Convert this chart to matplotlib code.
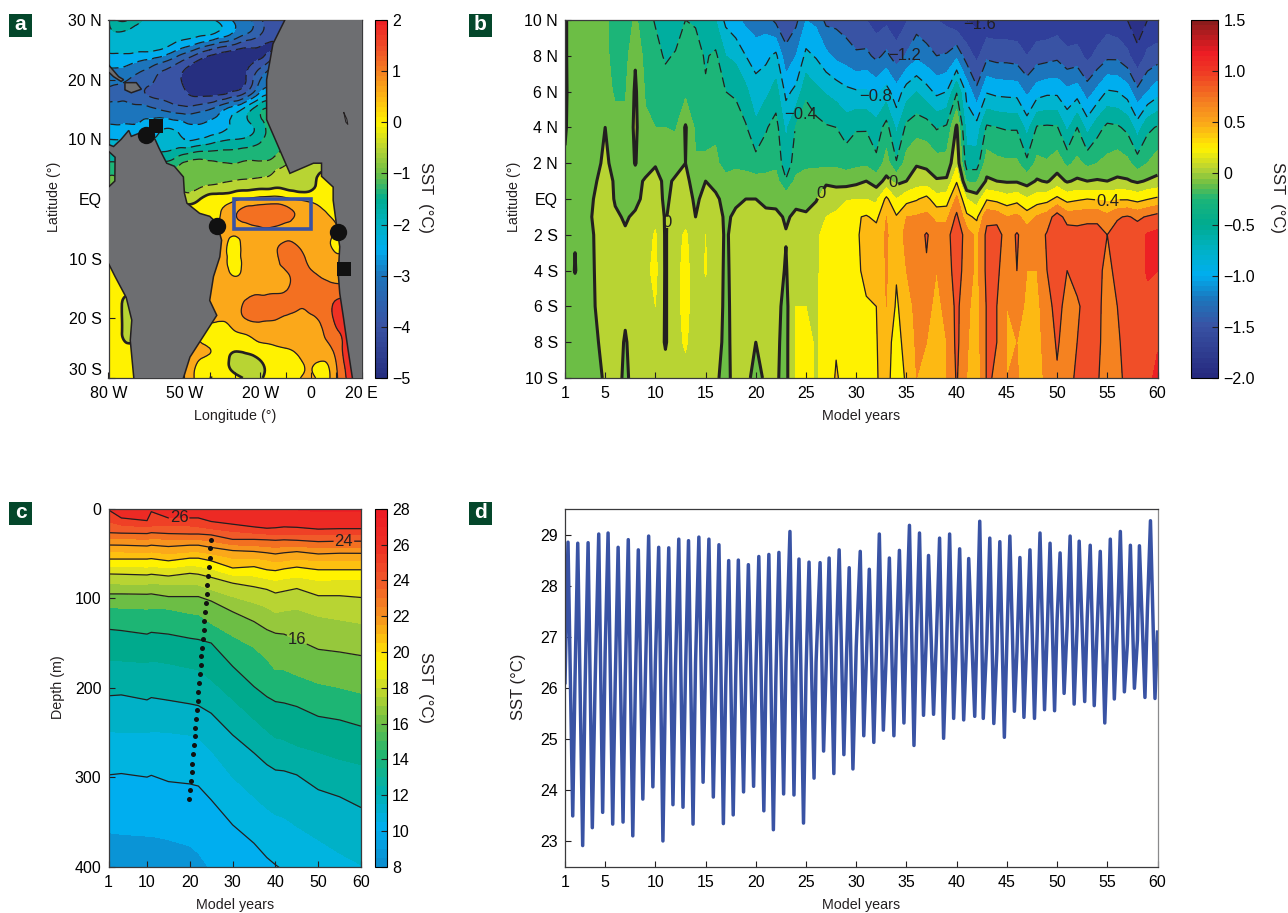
"""Four panel SST figure: map anomaly (a), Hovmoller (b), depth section (c), time series (d)."""

import numpy as np
import matplotlib
matplotlib.use("Agg")
import matplotlib.pyplot as plt
from matplotlib.cm import ScalarMappable
from matplotlib.colors import LinearSegmentedColormap, Normalize
from matplotlib.patches import Polygon, Rectangle
from matplotlib.tri import Triangulation, UniformTriRefiner

plt.rcParams["font.family"] = ["Liberation Sans", "DejaVu Sans"]
plt.rcParams["text.color"] = "#231f20"
plt.rcParams["axes.labelcolor"] = "#231f20"

W, H = 1288, 913
INK = "#231f20"
LAND = "#6d6e71"

# ---------------------------------------------------------------------------
# Data: panel a, SST anomaly on a lon/lat grid
# ---------------------------------------------------------------------------
map_lon = [-80, -75, -70, -65, -60, -55, -50, -45, -40, -35, -30, -25, -20, -15, -10, -5, 0, 5, 10, 15, 20]
map_lat = [30, 27.5, 25, 22.5, 20, 17.5, 15, 12.5, 10, 7.5, 5, 2.5, 0, -2.5, -5, -7.5, -10, -12.5, -15, -17.5, -20, -22.5, -25, -27.5, -30]
map_sst = [
    [-2.0, -1.4, -1.7, -2.1, -2.2, -2.2, -2.2, -2.3, -2.4, -2.7, -3.1, -3.4, -3.9, -4.3, -4.3, -4.3, -4.3, -4.3, -4.3, -4.3, -4.3],
    [-2.1, -2.1, -2.2, -2.2, -2.3, -2.3, -2.3, -2.4, -2.5, -2.8, -3.2, -3.6, -4.0, -4.3, -4.3, -4.3, -4.3, -4.3, -4.3, -4.3, -4.3],
    [-2.4, -2.4, -2.4, -2.4, -2.5, -2.8, -3.2, -3.6, -4.0, -4.3, -4.5, -4.6, -4.6, -4.5, -4.3, -4.3, -4.3, -4.3, -4.3, -4.3, -4.3],
    [-2.9, -2.9, -3.1, -3.3, -3.6, -3.9, -4.3, -4.7, -4.9, -4.9, -4.8, -4.6, -4.2, -3.6, -3.4, -3.4, -3.4, -3.4, -3.4, -3.4, -3.4],
    [-3.3, -3.4, -3.6, -3.8, -4.1, -4.3, -4.6, -5.0, -5.0, -5.0, -4.8, -4.4, -3.5, -3.2, -3.2, -3.2, -3.2, -3.2, -3.2, -3.2, -3.2],
    [-3.6, -3.6, -3.8, -4.0, -4.1, -4.2, -4.4, -4.6, -4.6, -4.5, -4.2, -3.7, -2.8, -2.5, -2.5, -2.5, -2.5, -2.5, -2.5, -2.5, -2.5],
    [-3.3, -3.3, -3.3, -3.3, -3.5, -3.7, -3.8, -3.7, -3.5, -3.1, -2.7, -2.2, -1.6, -1.5, -1.5, -1.5, -1.5, -1.5, -1.5, -1.5, -1.5],
    [-3.0, -3.0, -3.0, -2.9, -2.7, -2.7, -2.9, -3.0, -2.9, -2.7, -2.4, -2.1, -1.7, -1.3, -1.2, -1.2, -1.2, -1.2, -1.2, -1.2, -1.2],
    [-2.5, -2.5, -2.5, -2.5, -2.4, -2.3, -2.5, -2.5, -2.3, -2.1, -2.0, -1.9, -1.6, -1.2, -1.1, -1.1, -1.1, -1.1, -1.1, -1.1, -1.1],
    [-1.9, -1.9, -1.9, -1.9, -1.9, -1.8, -1.5, -1.3, -1.3, -1.3, -1.3, -1.2, -1.2, -1.1, -0.9, -0.9, -0.9, -0.9, -0.9, -0.9, -0.9],
    [-1.2, -1.2, -1.2, -1.2, -1.2, -1.1, -0.8, -0.8, -0.85, -0.85, -0.85, -0.8, -0.75, -0.6, -0.4, -0.05, -0.25, -0.1, -0.1, -0.1, -0.1],
    [-0.7, -0.7, -0.7, -0.7, -0.7, -0.7, -0.7, -0.65, -0.55, -0.45, -0.35, -0.3, -0.25, -0.2, -0.2, -0.2, -0.15, 0.1, 0.1, 0.1, 0.1],
    [0.2, 0.2, 0.2, 0.2, 0.1, 0.0, -0.2, -0.1, 0.2, 0.25, 0.4, 0.55, 0.65, 0.7, 0.6, 0.45, 0.35, 0.2, 0.2, 0.2, 0.2],
    [0.3, 0.3, 0.3, 0.3, 0.3, 0.3, 0.3, 0.3, 0.3, 0.55, 0.95, 1.2, 1.25, 1.25, 1.15, 0.95, 0.8, 0.6, 0.35, 0.35, 0.35],
    [0.4, 0.4, 0.4, 0.4, 0.4, 0.4, 0.4, 0.4, 0.4, 0.6, 0.7, 0.85, 0.95, 0.95, 0.9, 0.85, 0.8, 0.7, 0.5, 0.5, 0.5],
    [0.4, 0.4, 0.4, 0.4, 0.4, 0.4, 0.4, 0.4, 0.5, 0.6, 0.4, 0.75, 0.85, 0.9, 1.05, 0.95, 0.85, 0.7, 0.35, 0.35, 0.35],
    [0.2, 0.2, 0.4, 0.4, 0.4, 0.4, 0.5, 0.5, 0.6, 0.6, 0.4, 0.7, 0.8, 0.9, 1.15, 1.15, 0.9, 0.75, 0.6, 0.6, 0.6],
    [0.05, 0.2, 0.3, 0.4, 0.5, 0.5, 0.5, 0.6, 0.6, 0.65, 0.45, 0.7, 0.8, 0.9, 0.95, 1.15, 1.05, 0.9, 0.7, 0.7, 0.7],
    [0.25, 0.25, 0.25, 0.4, 0.5, 0.5, 0.5, 0.6, 0.6, 0.7, 0.75, 0.8, 0.85, 0.9, 0.95, 1.15, 1.15, 1.2, 1.2, 1.2, 1.2],
    [0.3, 0.05, -0.4, 0.3, 0.4, 0.5, 0.5, 0.6, 0.6, 0.7, 0.85, 1.1, 1.2, 1.2, 1.15, 1.05, 1.1, 1.3, 1.55, 1.6, 1.6],
    [0.3, 0.05, -0.4, 0.3, 0.4, 0.5, 0.5, 0.5, 0.6, 0.55, 0.75, 1.05, 1.1, 1.05, 0.95, 0.95, 0.95, 1.15, 1.6, 1.7, 1.7],
    [0.3, 0.05, -0.4, 0.3, 0.3, 0.4, 0.4, 0.4, 0.3, 0.35, 0.45, 0.55, 0.7, 0.75, 0.8, 0.85, 0.85, 1.0, 1.4, 1.6, 1.6],
    [0.3, 0.25, 0.2, 0.3, 0.3, 0.4, 0.5, 0.6, 0.5, 0.25, 0.1, 0.2, 0.35, 0.42, 0.5, 0.65, 0.8, 0.85, 1.2, 1.75, 1.75],
    [0.3, 0.25, 0.2, 0.3, 0.3, 0.4, 0.6, 0.5, 0.3, 0.15, -0.2, -0.3, -0.05, 0.15, 0.25, 0.4, 0.55, 0.45, 1.0, 1.7, 1.7],
    [0.3, 0.25, 0.2, 0.3, 0.3, 0.4, 0.6, 0.4, 0.0, 0.2, 0.2, -0.1, -0.05, 0.2, 0.3, 0.45, 0.6, 0.35, 0.9, 1.6, 1.6],
]
map_levels = [-6, -4.5, -4, -3.5, -3, -2.5, -2, -1.5, -1, -0.5, 0, 0.5, 1, 1.5, 3]
map_band_colors = ["#262f80", "#3953a4", "#3162ad", "#1c75bc", "#00aeef", "#00b4cf", "#00ae9f", "#1cb578",
                   "#6cbe45", "#b8d433", "#fff200", "#fba81a", "#f37021", "#ee3124"]

# coast outlines, lon then lat
america_lon = [-81, -78, -75, -72, -71, -68, -64, -61.6, -60, -57, -54, -50.4, -50, -49, -44, -40, -37.2, -35.3, -36, -38.5, -40, -37.2, -42.5, -47.8, -50.4, -50.4, -70, -70, -71.4, -70.8, -73, -77.4, -80, -81, -81, -80, -77.5, -77.4, -80]
america_lat = [9.3, 8.8, 10, 11.5, 10.5, 11, 10.5, 10, 8.5, 6, 5.5, 3.7, 1, -0.7, -2.4, -2.9, -4, -6.9, -9.7, -13, -17, -19.5, -23, -26.5, -30, -31, -31, -30, -23.7, -20.3, -16.5, -13, -10.8, -10.8, 2, 2, 3, 7, 8]
africa_lon = [-10.3, -15, -17.5, -17.5, -13.5, -8.3, 1, 4.2, 4.2, 8.8, 8.8, 10, 11.4, 10.8, 11.4, 12.8, 14.7, 16.4, 16.4, 21, 21, -10.3]
africa_lat = [30, 26, 20, 13.3, 9.4, 4.3, 6, 6, 3.8, 2, -0.2, -4, -8, -12.5, -15.8, -19.7, -25.3, -30, -31, -31, 31, 31]
cuba_lon = [-80, -76, -74, -75, -78, -80]
cuba_lat = [22.5, 20.5, 20, 19.7, 20.5, 21.3]
hispaniola_lon = [-73.5, -69, -67, -71, -73.5]
hispaniola_lat = [19.5, 19.5, 18.4, 17.8, 18.3]
lake_lon = [13, 14.2, 14.6, 13.8, 13]
lake_lat = [14.5, 13.4, 12.5, 12.9, 14.5]
circle_lon = [-65.3, -37, 10.8]
circle_lat = [10.75, -4.5, -5.5]
square_lon = [-61.3, 13]
square_lat = [12.3, -11.8]
box_lon = [-30.5, 0]
box_lat = [-5, 0]
map_xticks = [-80, -70, -60, -50, -40, -30, -20, -10, 0, 10, 20]
map_xlabels = ["80 W", "", "", "50 W", "", "", "20 W", "", "0", "", "20 E"]
map_yticks = [30, 20, 10, 0, -10, -20, -30]
map_ylabels = ["30 N", "20 N", "10 N", "EQ", "10 S", "20 S", "30 S"]

# ---------------------------------------------------------------------------
# Data: panel b, SST anomaly per model year (rows) and latitude (columns)
# ---------------------------------------------------------------------------
hov_lat = [10, 8, 6, 4, 2, 1, 0, -1, -2, -4, -6, -8, -10]
hov_year = list(range(1, 61))
hov_sst = [
    [.03, .03, .03, .02, -.02, -.08, -.1, -.1, -.12, -.13, -.14, -.14, -.12],
    [-.15, -.15, -.12, -.12, -.12, -.12, -.1, -.03, -.01, .01, -.12, -.14, -.14],
    [-.15, -.15, -.13, -.12, -.12, -.1, -.1, -.1, -.12, -.12, -.14, -.14, -.14],
    [-.15, -.15, -.13, -.12, -.08, -.02, .02, .05, .02, .01, 0, -.03, -.05],
    [-.16, -.15, -.15, 0, .06, .1, .12, .12, .12, .12, .1, .06, .02],
    [-.3, -.28, -.22, -.15, -.1, -.03, -.02, .03, .12, .12, .12, .1, .1],
    [-.3, -.28, -.22, -.15, -.12, -.1, -.08, -.02, .02, .1, .04, -.02, -.05],
    [-.17, -.02, .03, .04, .01, -.08, -.05, .03, .12, .12, .12, .1, .1],
    [-.3, -.28, -.22, -.17, -.12, .03, .05, .1, .12, .15, .15, .12, .12],
    [-.42, -.32, -.27, -.2, -.02, .08, .12, .15, .22, .25, .2, .15, .15],
    [-.55, -.43, -.3, -.2, -.1, -.05, -.05, -.02, -.02, -.02, -.02, -.02, .08],
    [-.52, -.38, -.28, -.22, -.08, .03, .08, .12, .15, .15, .15, .15, .15],
    [-.4, -.28, -.25, .02, 0, .05, .08, .15, .22, .25, .25, .22, .15],
    [-.42, -.33, -.3, -.24, -.18, -.08, -.03, 0, .12, .12, .12, .12, .12],
    [-.6, -.42, -.38, -.28, -.16, 0, .05, .12, .2, .21, .15, .14, .13],
    [-.6, -.36, -.33, -.25, -.15, -.05, .03, .08, .12, .12, .12, .08, .03],
    [-.85, -.6, -.4, -.32, -.3, -.12, -.05, -.03, -.03, -.04, -.05, -.05, -.06],
    [-.95, -.65, -.42, -.33, -.25, -.1, -.03, .03, .08, .08, .08, .07, .07],
    [-1.05, -.8, -.55, -.38, -.28, -.1, 0, .07, .12, .12, .12, .08, .05],
    [-1.15, -.85, -.75, -.55, -.33, -.12, 0, .08, .14, .14, .12, 0, -.06],
    [-1.1, -.85, -.65, -.42, -.3, -.12, -.03, .03, .14, .14, .12, .1, .03],
    [-1.25, -.75, -.52, -.32, -.25, -.12, -.05, .04, .12, .1, .05, .03, .02],
    [-1.3, -1.15, -.85, -.65, -.52, -.38, -.08, -.02, .01, -.02, -.05, -.05, -.05],
    [-1.25, -1, -.75, -.38, -.3, -.15, -.04, .03, .12, .2, .2, .22, .22],
    [-1, -.75, -.45, -.25, -.25, -.1, -.05, .02, .12, .18, .2, .25, .25],
    [-1.05, -.82, -.55, -.33, -.25, -.08, -.01, .06, .15, .17, .18, .18, .18],
    [-1.25, -.95, -.62, -.38, -.25, -.02, .07, .2, .28, .27, .27, .27, .28],
    [-1.25, -1.05, -.68, -.4, -.25, -.05, .1, .25, .32, .33, .33, .38, .42],
    [-1.3, -1.1, -.75, -.5, -.28, -.08, .18, .36, .4, .36, .33, .33, .33],
    [-1.3, -1.18, -.78, -.42, -.25, -.05, .2, .38, .38, .36, .35, .34, .34],
    [-1.4, -1.15, -.78, -.42, -.24, 0, .2, .42, .45, .45, .38, .35, .35],
    [-1.5, -1.25, -.85, -.52, -.35, -.08, .15, .35, .5, .45, .4, .39, .39],
    [-1.45, -1.15, -.72, -.32, -.12, .05, .45, .6, .62, .62, .6, .5, .45],
    [-1.55, -1.3, -.92, -.65, -.38, -.05, .2, .42, .5, .42, .37, .3, .32],
    [-1.42, -1.18, -.7, -.35, -.12, 0, .33, .6, .65, .6, .52, .5, .42],
    [-1.3, -1.05, -.6, -.28, -.02, .1, .38, .62, .7, .7, .65, .62, .6],
    [-1.35, -1.12, -.72, -.3, -.05, .1, .46, .65, .82, .78, .65, .6, .6],
    [-1.4, -1.2, -.85, -.42, -.12, .02, .28, .55, .7, .6, .55, .5, .5],
    [-1.45, -1.18, -.8, -.37, -.12, .03, .3, .55, .72, .7, .65, .6, .6],
    [-1.55, -1.05, -.42, .03, .15, .38, .65, .85, .95, .9, .85, .85, .82],
    [-1.6, -1.3, -.85, -.7, -.5, -.22, .2, .45, .7, .7, .65, .62, .6],
    [-1.65, -1.45, -1.15, -.72, -.5, -.22, .1, .36, .55, .55, .5, .5, .48],
    [-1.55, -1.25, -.82, -.37, -.1, .03, .38, .75, .85, .85, .82, .82, .82],
    [-1.55, -1.28, -.86, -.4, -.15, 0, .34, .72, .9, .85, .8, .8, .78],
    [-1.55, -1.28, -.87, -.42, -.17, -.02, .28, .6, .7, .65, .6, .6, .6],
    [-1.55, -1.3, -.88, -.42, -.17, -.02, .33, .65, .82, .8, .7, .6, .62],
    [-1.6, -1.4, -1.05, -.68, -.35, -.08, .22, .5, .7, .6, .55, .5, .5],
    [-1.55, -1.3, -.9, -.38, -.15, .02, .3, .62, .7, .6, .55, .52, .52],
    [-1.55, -1.28, -.85, -.37, -.18, -.02, .33, .7, .82, .8, .72, .7, .65],
    [-1.52, -1.25, -.85, -.38, -.1, .08, .45, .9, .92, .95, .88, .82, .78],
    [-1.55, -1.35, -.95, -.65, -.25, -.02, .33, .72, .9, .8, .72, .72, .7],
    [-1.55, -1.33, -.9, -.4, -.15, .03, .37, .72, .88, .85, .78, .8, .85],
    [-1.6, -1.45, -1.1, -.68, -.25, 0, .4, .75, .88, .85, .85, .85, .85],
    [-1.55, -1.35, -.95, -.48, -.2, .02, .38, .75, .88, .85, .85, .85, .82],
    [-1.5, -1.25, -.78, -.35, -.15, 0, .36, .65, .8, .75, .72, .7, .7],
    [-1.55, -1.25, -.8, -.37, -.1, .03, .38, .78, .88, .85, .8, .78, .75],
    [-1.6, -1.35, -.9, -.45, -.15, .02, .38, .82, .97, .9, .85, .85, .85],
    [-1.7, -1.55, -1.15, -.7, -.3, -.03, .33, .76, .92, .92, .88, .88, .85],
    [-1.6, -1.35, -1, -.45, -.2, .02, .39, .82, 1.02, 1.02, .95, .9, .95],
    [-1.58, -1.3, -.88, -.38, -.1, .05, .44, .88, 1.05, 1, .95, .98, 1.05],
]
hov_levels = [-3, -1.8, -1.6, -1.4, -1.2, -1, -.8, -.6, -.4, -.2, 0, .2, .4, .6, .8, 1, 3]
hov_band_colors = ["#262a7f", "#2b3188", "#303f9b", "#3953a4", "#1c75bc", "#00aeef", "#00b4cf", "#00ae9f",
                   "#1cb578", "#6cbe45", "#b8d433", "#fff200", "#fdb913", "#f58220", "#f04e28", "#ed2024"]
hov_xticks = [1, 5, 10, 15, 20, 25, 30, 35, 40, 45, 50, 55, 60]
hov_yticks = [10, 8, 6, 4, 2, 0, -2, -4, -6, -8, -10]
hov_ylabels = ["10 N", "8 N", "6 N", "4 N", "2 N", "EQ", "2 S", "4 S", "6 S", "8 S", "10 S"]

# ---------------------------------------------------------------------------
# Data: panel c, depth (m) of each isotherm per model year
# ---------------------------------------------------------------------------
sec_year = [1, 4, 10, 11, 15, 20, 22, 25, 30, 35, 38, 40, 42, 45, 50, 55, 60]
sec_temp = [28, 27, 26, 25, 24, 23, 22, 21, 20, 19, 18, 17, 16, 15, 14, 13, 12, 11, 10, 9, 8]
sec_depth = [
    [-10, -10, -10, -10, -10, -10, -10, -10, -10, -10, -10, -10, -10, -10, -10, -10, -10],
    [-3, -3, -2, -3, -2, -2, -1, -1, 0, 0, 1, 1, 1, 1, 3, 3, 3],
    [1, 10, 13, 3, 10, 10, 10, 14, 17, 20, 21.5, 21, 20, 20.5, 22.5, 22, 22],
    [14, 18, 20, 19, 19, 19, 20, 22, 25, 27, 28, 28, 28, 28, 29, 29, 29],
    [26.5, 27, 27.5, 26.5, 27.5, 28, 28, 29, 34, 34, 34.5, 35, 34.5, 35, 36.5, 36, 36],
    [33, 33, 34, 33, 34, 34, 34, 36, 40, 41, 42, 43, 42, 42, 43, 43, 43],
    [40.3, 40.5, 41.4, 40.5, 42, 40.5, 40.5, 43, 46.5, 47.5, 49, 50.3, 49, 47.7, 50.3, 49.5, 49.6],
    [48, 48, 49, 48, 50, 48, 48, 50, 55, 55, 57, 59, 58, 56, 58, 58, 58],
    [56, 56, 56, 55.5, 58, 55, 55, 58, 66, 64.5, 68, 69, 67, 65, 68, 68, 68],
    [64, 64, 65, 64, 66, 63, 64, 67, 74, 75, 78, 80, 78, 76, 80, 79, 79],
    [72.7, 73, 73.8, 73, 75, 72, 73, 76.5, 83, 87, 90, 94, 92, 89, 97, 97, 99],
    [83, 84, 84, 83, 85, 85, 85, 90, 98, 105, 110, 116, 114, 112, 120, 124, 128],
    [95, 95, 95.4, 95, 98, 98, 98, 103, 115, 126, 135, 139, 140, 146, 157, 160, 164],
    [110, 111, 112, 111, 112, 117, 118, 128, 142, 155, 168, 180, 180, 186, 195, 200, 206],
    [134.6, 136, 140, 138, 140, 144.6, 146, 150, 176, 198.7, 210, 215.5, 217, 221, 232, 236, 243],
    [169, 170, 172, 170, 173, 178, 180, 191, 213, 235, 248, 256, 258, 265, 272, 280, 286],
    [209, 208, 213.6, 211, 214, 218, 220, 228.5, 252.8, 273, 286, 292, 293, 297.5, 314, 322, 334],
    [249, 250, 250, 249, 250, 253, 256, 270, 300, 322, 335, 342, 345, 355, 370, 385, 398],
    [297.5, 296, 300, 298, 305, 307.6, 310, 325.5, 353.4, 374, 390, 398, 405, 420, 440, 455, 470],
    [362, 364, 366, 366, 370, 377, 385, 405, 430, 450, 465, 475, 480, 495, 515, 530, 545],
    [450, 452, 455, 455, 460, 465, 470, 490, 510, 530, 545, 555, 560, 575, 595, 610, 625],
]
sec_levels = list(range(8, 29))
sec_band_colors = ["#0a94d6", "#00aeef", "#00b4e0", "#00b1c7", "#00aea5", "#00aa8d", "#1db574", "#6cbe45",
                   "#96c83c", "#b8d433", "#e0e21c", "#fff200", "#fdc010", "#fba81a", "#f7931d", "#f37021",
                   "#f15a29", "#ef4026", "#ed2a24", "#ed1f24"]
# dotted line of the thermocline tilt
dot_year = [25.0, 24.8, 24.6, 24.5, 24.3, 24.1, 23.9, 23.8, 23.5, 23.4, 23.2, 23.1, 22.8, 22.7, 22.6, 22.3, 22.2, 22.0, 21.9, 21.7, 21.5, 21.3, 21.3, 21.0, 20.8, 20.6, 20.4, 20.3, 20.1, 19.9]
dot_depth = [35, 44, 55, 65, 75, 85, 95, 105, 115, 125, 135, 145, 155, 165, 175, 185, 195, 205, 215, 225, 235, 245, 254, 264, 274, 285, 294, 304, 314, 324]
sec_xticks = [1, 10, 20, 30, 40, 50, 60]
sec_yticks = [0, 100, 200, 300, 400]

# ---------------------------------------------------------------------------
# Data: panel d, SST time series as yearly maxima, minima and January values
# ---------------------------------------------------------------------------
peak_t = [1.3, 2.27, 3.3, 4.36, 5.29, 6.29, 7.3, 8.3, 9.33, 10.33, 11.33, 12.33, 13.3, 14.33, 15.33, 16.33, 17.3, 18.26, 19.26, 20.3,
          21.3, 22.3, 23.4, 24.3, 25.3, 26.4, 27.3, 28.3, 29.3, 30.4, 31.3, 32.3, 33.3, 34.3, 35.3, 36.3, 37.2, 38.3, 39.3, 40.3,
          41.2, 42.3, 43.3, 44.3, 45.3, 46.3, 47.3, 48.3, 49.3, 50.3, 51.3, 52.2, 53.3, 54.3, 55.3, 56.3, 57.3, 58.2, 59.3]
peak_sst = [28.85, 28.83, 28.84, 29.01, 29.03, 28.75, 28.9, 28.7, 28.97, 28.75, 28.74, 28.91, 28.88, 28.95, 28.91, 28.8, 28.49, 28.5, 28.41, 28.57,
            28.61, 28.65, 29.06, 28.52, 28.46, 28.45, 28.54, 28.7, 28.35, 28.67, 28.32, 29.01, 28.54, 28.69, 29.18, 29.03, 28.59, 28.93, 29.01, 28.72,
            28.53, 29.26, 28.93, 28.86, 28.97, 28.55, 28.7, 29.03, 28.83, 28.64, 28.97, 28.87, 28.79, 28.67, 28.91, 29.06, 28.79, 28.78, 29.27]
trough_t = [1.77, 2.76, 3.72, 4.75, 5.75, 6.78, 7.75, 8.75, 9.75, 10.75, 11.75, 12.75, 13.75, 14.75, 15.77, 16.77, 17.75, 18.78, 19.78, 20.8,
            21.75, 22.77, 23.8, 24.75, 25.8, 26.75, 27.77, 28.77, 29.67, 30.75, 31.75, 32.7, 33.75, 34.75, 35.75, 36.7, 37.7, 38.7, 39.7, 40.7,
            41.8, 42.65, 43.7, 44.75, 45.75, 46.7, 47.75, 48.75, 49.75, 50.7, 51.7, 52.75, 53.7, 54.75, 55.7, 56.7, 57.7, 58.75, 59.75]
trough_sst = [23.49, 22.91, 23.26, 23.56, 23.33, 23.37, 23.1, 23.82, 24.06, 23.0, 23.71, 23.66, 23.33, 24.15, 23.86, 23.34, 23.51, 23.96, 24.07, 23.59,
              23.22, 23.92, 23.9, 23.35, 24.23, 24.76, 24.32, 24.69, 24.41, 25.06, 24.93, 25.17, 25.06, 25.31, 24.87, 25.46, 25.48, 25.01, 25.4, 25.37,
              25.44, 25.4, 25.3, 25.03, 25.54, 25.42, 25.4, 25.57, 25.55, 25.89, 25.68, 25.73, 25.65, 25.31, 25.78, 25.92, 25.99, 25.81, 25.79]
jan_t = list(range(1, 61))
jan_sst = [26.1, 26.2, 26.0, 26.1, 26.7, 26.1, 26.2, 26.0, 26.2, 26.5, 26.0, 26.4, 26.3, 26.5, 26.5, 25.9, 26.0, 26.2, 26.2, 26.3,
           26.1, 26.2, 26.5, 26.3, 26.3, 26.5, 26.4, 26.8, 26.4, 26.8, 26.5, 26.6, 26.7, 26.9, 27.3, 27.0, 27.1, 27.06, 26.8, 27.0,
           26.9, 26.9, 26.9, 26.7, 26.9, 26.7, 27.0, 26.95, 27.0, 27.32, 27.2, 27.22, 27.36, 27.22, 26.77, 27.22, 26.86, 26.93, 27.55, 27.09]
ts_yticks = [23, 24, 25, 26, 27, 28, 29]

# ---------------------------------------------------------------------------
# Colorbar ramps
# ---------------------------------------------------------------------------
ramp_a = [(-5, "#262f80"), (-4, "#3953a4"), (-3, "#1c75bc"), (-2.5, "#00aeef"), (-2, "#00b1c0"), (-1.5, "#00ad8f"),
          (-1, "#6cbe45"), (-0.5, "#b8d433"), (0, "#fff200"), (0.5, "#fdb913"), (1, "#f58220"), (1.5, "#f04e28"), (2, "#ed2024")]
ramp_b = [(-2, "#262a7f"), (-1.5, "#3953a4"), (-1.25, "#1c75bc"), (-1, "#00aeef"), (-.75, "#00b2c4"), (-.5, "#00ab8f"),
          (-.25, "#1cb578"), (-.1, "#6cbe45"), (.05, "#b8d433"), (.25, "#fff200"), (.5, "#fba81a"), (.7, "#f58220"),
          (1, "#ef3b24"), (1.2, "#ed1c24"), (1.5, "#8c1c1c")]
ramp_c = [(8, "#0a8fd0"), (10, "#00aeef"), (12, "#00b0b0"), (14, "#1db574"), (16, "#6cbe45"), (18, "#c8da2b"),
          (19.5, "#fff200"), (22, "#f7941e"), (24, "#f15a29"), (26, "#ee3124"), (28, "#ed1c24")]


def px_axes(fig, left, top, right, bottom):
    """Axes placed by pixel edges of the target figure."""
    ax = fig.add_axes([left / W, 1 - bottom / H, (right - left) / W, (bottom - top) / H])
    return ax


def px_text(fig, x, y, s, **kwargs):
    kwargs.setdefault("ha", "center")
    kwargs.setdefault("va", "center")
    fig.text(x / W, 1 - y / H, s, **kwargs)


def panel_letter(fig, x, y, letter):
    fig.patches.append(Rectangle((x / W, 1 - (y + 23) / H), 23 / W, 23 / H, transform=fig.transFigure,
                                 facecolor="#04472b", edgecolor="none"))
    px_text(fig, x + 11.5, y + 11, letter, color="white", fontsize=15, fontweight="bold")


def style_axes(ax):
    ax.tick_params(direction="in", length=4, width=0.8, color=INK, top=False, right=False, labelsize=11.5, pad=5)
    ax.tick_params(axis="x", pad=6)
    for spine in ax.spines.values():
        spine.set_linewidth(0.9)
        spine.set_color("#3a3a3c")


def ramp_colorbar(fig, cax, ramp, vmin, vmax, ticks, labels, bands):
    vals = [(v - vmin) / (vmax - vmin) for v, _ in ramp]
    cols = [c for _, c in ramp]
    cmap = LinearSegmentedColormap.from_list("ramp", list(zip(vals, cols))).resampled(bands)
    cb = fig.colorbar(ScalarMappable(norm=Normalize(vmin, vmax), cmap=cmap), cax=cax, ticks=ticks)
    cb.ax.set_yticklabels(labels)
    cb.ax.tick_params(direction="in", length=4, width=0.8, color=INK, labelsize=11.5, pad=4)
    cb.outline.set_linewidth(0.8)
    return cb


def minus_label(v):
    return f"{v:g}".replace("-", "\u2212")


fig = plt.figure(figsize=(W / 100, H / 100), dpi=100, facecolor="white")

# ---------------------------------------------------------------------------
# a. map
# ---------------------------------------------------------------------------
ax = px_axes(fig, 108.5, 20, 361.5, 378)
lon2d, lat2d = np.meshgrid(map_lon, map_lat)
tri = Triangulation(lon2d.ravel(), lat2d.ravel())
fine_tri, fine_sst = UniformTriRefiner(tri).refine_field(np.array(map_sst).ravel(), subdiv=3)
ax.tricontourf(fine_tri, fine_sst, levels=map_levels, colors=map_band_colors)
ax.tricontour(fine_tri, fine_sst, levels=[-4.5, -4, -3.5, -3, -2.5, -2, -1.5, -1, -0.5], colors=INK,
              linewidths=0.9, linestyles=[(0, (8, 4))])
ax.tricontour(fine_tri, fine_sst, levels=[0], colors=INK, linewidths=1.9)
ax.tricontour(fine_tri, fine_sst, levels=[0.5, 1, 1.5], colors=INK, linewidths=0.9)
for xs, ys in [(america_lon, america_lat), (africa_lon, africa_lat), (cuba_lon, cuba_lat), (hispaniola_lon, hispaniola_lat)]:
    ax.add_patch(Polygon(np.column_stack([xs, ys]), closed=True, facecolor=LAND, edgecolor=INK, linewidth=1.1, zorder=3))
ax.plot(lake_lon, lake_lat, color=INK, lw=0.7, zorder=4)
ax.add_patch(Rectangle((box_lon[0], box_lat[0]), box_lon[1] - box_lon[0], box_lat[1] - box_lat[0], fill=False,
                       edgecolor="#3953a4", linewidth=2.6, zorder=5))
ax.plot(circle_lon, circle_lat, "o", color="#111111", ms=12.5, mew=0, zorder=6, clip_on=False)
ax.plot(square_lon, square_lat, "s", color="#111111", ms=10.5, mew=0, zorder=6, clip_on=False)
ax.set_xlim(-80, 20)
ax.set_ylim(-30, 30)
ax.set_xticks(map_xticks, map_xlabels)
ax.set_yticks(map_yticks, map_ylabels)
style_axes(ax)
ax.get_yticklabels()[-1].set_va("bottom")
px_text(fig, 235, 416, "Longitude (\u00b0)", fontsize=10.3)
px_text(fig, 54, 197, "Latitude (\u00b0)", fontsize=10.3, rotation=90)

cax = px_axes(fig, 375, 20, 386.5, 378)
ramp_colorbar(fig, cax, ramp_a, -5, 2, [-5, -4, -3, -2, -1, 0, 1, 2],
              ["\u22125", "\u22124", "\u22123", "\u22122", "\u22121", "0", "1", "2"], 70)
px_text(fig, 426, 197, "SST  (\u00b0C)", fontsize=12, rotation=270)

# ---------------------------------------------------------------------------
# b. latitude / year section
# ---------------------------------------------------------------------------
ax = px_axes(fig, 565, 20, 1157.5, 378)
field = np.array(hov_sst).T
ax.contourf(hov_year, hov_lat, field, levels=hov_levels, colors=hov_band_colors)
cs = ax.contour(hov_year, hov_lat, field, levels=[-1.6, -1.2, -0.8, -0.4, 0, 0.4, 0.8], colors=INK,
                linewidths=[0.9, 0.9, 0.9, 0.9, 2.2, 0.9, 0.9],
                linestyles=[(0, (8, 4))] * 4 + ["solid"] * 3)
labels_b = ax.clabel(cs, fmt=minus_label, fontsize=12, inline=True, inline_spacing=1,
                     manual=[(42.5, 9.7), (35.5, 7.7), (31.5, 5.4), (24, 4.8), (27, 0.1), (33.8, 1.0), (11.2, -1.3), (55, -0.1)])
for label in labels_b:
    label.set_rotation(0)
ax.set_xlim(1, 60)
ax.set_ylim(-10, 10)
ax.set_xticks(hov_xticks)
ax.set_yticks(hov_yticks, hov_ylabels)
style_axes(ax)
px_text(fig, 861, 416, "Model years", fontsize=10.3)
px_text(fig, 514, 197, "Latitude (\u00b0)", fontsize=10.3, rotation=90)

cax = px_axes(fig, 1191, 20, 1218, 378)
ramp_colorbar(fig, cax, ramp_b, -2, 1.5, [-2, -1.5, -1, -.5, 0, .5, 1, 1.5],
              ["\u22122.0", "\u22121.5", "\u22121.0", "\u22120.5", "0", "0.5", "1.0", "1.5"], 70)
px_text(fig, 1277, 197, "SST  (\u00b0C)", fontsize=12, rotation=270)

# ---------------------------------------------------------------------------
# c. depth / year section, isotherm depths as a curvilinear grid
# ---------------------------------------------------------------------------
ax = px_axes(fig, 108.5, 509, 361, 866.5)
sec_x = np.tile(sec_year, (len(sec_temp), 1))
sec_y = np.array(sec_depth)
sec_z = np.tile(np.array(sec_temp)[:, None], (1, len(sec_year)))
ax.contourf(sec_x, sec_y, sec_z, levels=sec_levels, colors=sec_band_colors)
cs = ax.contour(sec_x, sec_y, sec_z, levels=list(range(10, 28, 2)), colors=INK, linewidths=0.9)
labels_c = ax.clabel(cs, fmt="%d", fontsize=12, inline=True, inline_spacing=1,
                     manual=[(45, 146), (56, 36), (17.5, 10)])
for label in labels_c:
    label.set_rotation(0)
ax.plot(dot_year, dot_depth, linestyle="none", marker="o", color="#111111", ms=3.6, mew=0, zorder=5)
ax.set_xlim(1, 60)
ax.set_ylim(400, 0)
ax.set_xticks(sec_xticks)
ax.set_yticks(sec_yticks)
style_axes(ax)
px_text(fig, 235, 905, "Model years", fontsize=10.3)
px_text(fig, 58, 687, "Depth (m)", fontsize=10.3, rotation=90)

cax = px_axes(fig, 375, 509, 386.5, 866.5)
ramp_colorbar(fig, cax, ramp_c, 8, 28, list(range(8, 30, 2)), [str(v) for v in range(8, 30, 2)], 40)
px_text(fig, 426, 687, "SST  (\u00b0C)", fontsize=12, rotation=270)

# ---------------------------------------------------------------------------
# d. time series
# ---------------------------------------------------------------------------
ax = px_axes(fig, 565, 509, 1157.5, 866.5)
t = np.concatenate([peak_t, trough_t, jan_t])
sst = np.concatenate([peak_sst, trough_sst, jan_sst])
order = np.argsort(t)
ax.plot(t[order], sst[order], color="#3953a4", lw=2.5, solid_joinstyle="round")
ax.set_xlim(1, 60)
ax.set_ylim(22.5, 29.5)
ax.set_xticks(hov_xticks)
ax.set_yticks(ts_yticks)
style_axes(ax)
ax.spines["right"].set_color("#8a8a8c")
px_text(fig, 861, 905, "Model years", fontsize=10.3)
px_text(fig, 519, 687, "SST (\u00b0C)", fontsize=12, rotation=90)

panel_letter(fig, 9, 14, "a")
panel_letter(fig, 469, 14, "b")
panel_letter(fig, 9, 502, "c")
panel_letter(fig, 469, 502, "d")

fig.savefig("out.png", dpi=100)
